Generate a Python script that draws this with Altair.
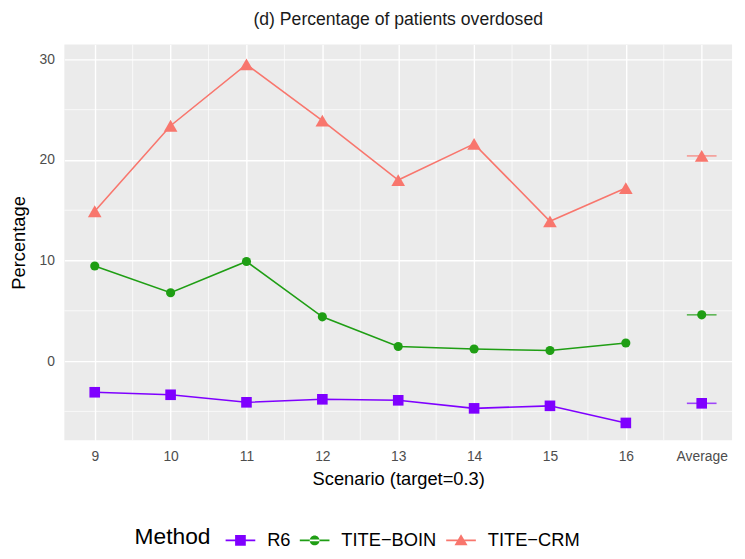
import altair as alt
import pandas as pd

# ---- data ----
scenarios = ["9", "10", "11", "12", "13", "14", "15", "16", "Average"]
methods = ["R6", "TITE−BOIN", "TITE−CRM"]
r6 = [-3.1, -3.35, -4.1, -3.8, -3.9, -4.7, -4.45, -6.15, -4.2]
tite_boin = [9.45, 6.8, 9.9, 4.4, 1.45, 1.2, 1.05, 1.8, 4.6]
tite_crm = [14.9, 23.4, 29.5, 23.9, 18.0, 21.6, 13.9, 17.2, 20.4]
colors = ["#7F00FF", "#1F9E14", "#F8766D"]
shapes = ["square", "circle", "triangle-up"]
sizes = [115, 85, 190]
y_major = [0, 10, 20, 30]
y_minor = [-5, 5, 15, 25]

# legend keys: a short line with the marker on it (unit square -1..1)
bar = "M-1,-0.055L1,-0.055L1,0.055L-1,0.055Z "
legend_paths = [
    bar + "M-0.36,-0.36L0.36,-0.36L0.36,0.36L-0.36,0.36Z",
    bar + "M-0.33,0A0.33,0.33 0 1,0 0.33,0A0.33,0.33 0 1,0 -0.33,0Z",
    bar + "M0,-0.42L0.44,0.32L-0.44,0.32Z",
]

rows = []
for m, vals in zip(methods, [r6, tite_boin, tite_crm]):
    for i, (s, v) in enumerate(zip(scenarios, vals)):
        rows.append({"Method": m, "Scenario": s, "pos": 9 + i, "value": v,
                     "avg": s == "Average"})
df = pd.DataFrame(rows)
x_major = list(range(9, 9 + len(scenarios)))
x_minor = [p + 0.5 for p in x_major[:-1]]

label_expr = "datum.value == 17 ? 'Average' : datum.label"

xscale = alt.Scale(domain=[8.6, 17.4], nice=False, zero=False)
yscale = alt.Scale(domain=[-7.87, 31.47], nice=False, zero=False)
cscale = alt.Scale(domain=methods, range=colors)
lscale = alt.Scale(domain=methods, range=legend_paths)

xaxis = alt.Axis(values=x_major, labelExpr=label_expr, title="Scenario (target=0.3)",
                 grid=True, gridColor="white", gridWidth=1.4, domain=False,
                 ticks=False, labelColor="#4D4D4D",
                 labelFontSize=14, labelPadding=9, titleFontSize=18.5, titleColor="black",
                 titleFontWeight="normal", titlePadding=7)
yaxis = alt.Axis(values=y_major, title="Percentage", grid=True, gridColor="white",
                 gridWidth=1.4, domain=False, ticks=False,
                 labelColor="#4D4D4D", labelFontSize=14, labelPadding=10, titleFontSize=18.5,
                 titleColor="black", titleFontWeight="normal", titlePadding=11)

legend = alt.Legend(title="Method", orient="none", direction="horizontal",
                    legendX=71, legendY=486, titleOrient="left",
                    titleFontSize=23, titleFontWeight="normal", titleColor="black",
                    labelFontSize=18.5, labelColor="black", symbolSize=900,
                    symbolStrokeWidth=0, symbolOpacity=1, columnPadding=9,
                    titlePadding=15, labelOffset=12)

X = alt.X("pos:Q", scale=xscale, axis=xaxis)
Y = alt.Y("value:Q", scale=yscale, axis=yaxis)
C = alt.Color("Method:N", scale=cscale, legend=legend)

minor_x = alt.Chart(pd.DataFrame({"x": x_minor})).mark_rule(color="white", strokeWidth=0.7).encode(
    x=alt.X("x:Q", scale=xscale, axis=xaxis))
minor_y = alt.Chart(pd.DataFrame({"y": y_minor})).mark_rule(color="white", strokeWidth=0.7).encode(
    y=alt.Y("y:Q", scale=yscale, axis=yaxis))

base = alt.Chart(df)
lines = base.transform_filter("!datum.avg").mark_line(strokeWidth=1.6).encode(x=X, y=Y, color=C)
avg_bars = base.transform_filter("datum.avg").mark_tick(
    orient="horizontal", size=30, thickness=1.6).encode(x=X, y=Y, color=C)

point_layers = []
for m, shp, sz in zip(methods, shapes, sizes):
    point_layers.append(
        base.transform_filter(alt.datum.Method == m)
        .mark_point(filled=True, opacity=1, shape=shp, size=sz, strokeWidth=0)
        .encode(x=X, y=Y, color=C)
    )

legend_layer = base.transform_filter("false").mark_point(
    filled=True, opacity=1, strokeWidth=0).encode(
    x=X, y=Y, color=C, shape=alt.Shape("Method:N", scale=lscale, legend=legend))

chart = alt.layer(minor_x, minor_y, lines, avg_bars, *point_layers, legend_layer).properties(
    width=675, height=400,
    title=alt.Title("(d) Percentage of patients overdosed", fontSize=17.8,
                    fontWeight="normal", color="#1A1A1A", offset=16),
    padding={"left": 57, "top": 34, "right": 5, "bottom": 109},
    autosize=alt.AutoSizeParams(type="none"),
).configure(font="Liberation Sans").configure_view(fill="#EBEBEB", stroke=None)

chart.save("out.html", embed_options={"renderer": "svg", "actions": False})
